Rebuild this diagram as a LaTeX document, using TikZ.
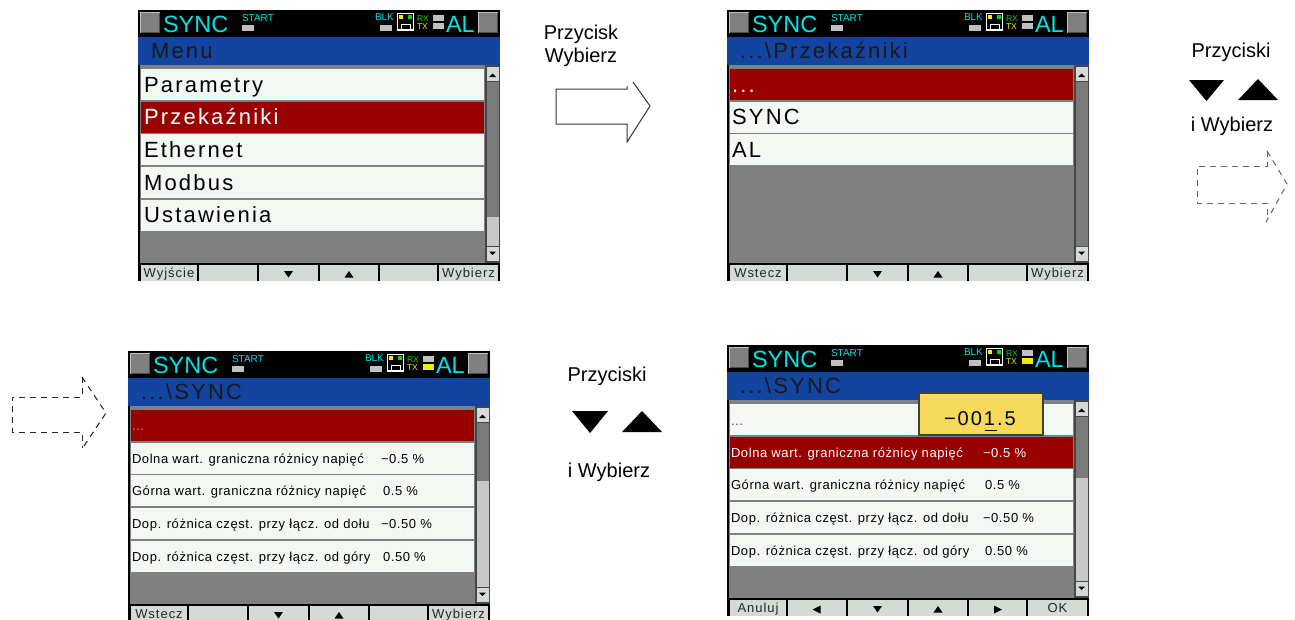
\documentclass[tikz,border=0pt]{standalone}
\usepackage{fontspec}
\setmainfont{Liberation Sans}
\newfontfamily\lcdface[LetterSpace=10]{Liberation Sans}
\newfontfamily\lcdsmall[LetterSpace=4.5]{Liberation Sans}
\newfontfamily\lcdkey[LetterSpace=7.5]{Liberation Sans}

\definecolor{lcdblue}{RGB}{18,68,160}
\definecolor{lcdred}{RGB}{153,0,0}
\definecolor{lcdrow}{RGB}{244,248,244}
\definecolor{lcdgrey}{RGB}{128,128,128}
\definecolor{lcdthumb}{RGB}{122,122,122}
\definecolor{lcddark}{RGB}{70,70,70}
\definecolor{lcdtrack}{RGB}{200,200,200}
\definecolor{lcdcyan}{RGB}{0,228,228}
\definecolor{lcdbtn}{RGB}{214,218,214}
\definecolor{lcdlight}{RGB}{192,192,192}
\definecolor{lcdyellow}{RGB}{238,238,0}
\definecolor{lcdgreen}{RGB}{0,216,0}
\definecolor{popyellow}{RGB}{248,218,90}

\newcommand\lcdbig{\lcdface\fontsize{22}{22}\selectfont}
\newcommand\lcdrowfont{\lcdsmall\fontsize{13}{13}\selectfont}
\newcommand\lcdkeyfont{\lcdkey\fontsize{13}{13}\selectfont}
\newcommand\lcdtiny{\fontsize{10}{10}\selectfont}
\newcommand\lcdmini{\fontsize{8.5}{9}\selectfont}
\newcommand\lcdstatus{\fontsize{23.5}{24}\selectfont}

\tikzset{
  lbl/.style={inner sep=0pt, outer sep=0pt, anchor=base west},
  keylbl/.style={inner sep=0pt, outer sep=0pt, anchor=base, font=\lcdkeyfont, text=black!85},
  capt/.style={inner sep=0pt, outer sep=0pt, anchor=base, font=\fontsize{20}{20}\selectfont},
  blockarrow/.style={line width=1pt, line join=miter, draw=black!80},
  dasharrow/.style={line width=1pt, dash pattern=on 6pt off 5pt},
}

% raised grey square in the status line
\newcommand{\lcdbevel}[2]{%
  \fill[lcdgrey] (#1,#2) rectangle ++(20,21);
  \draw[lcdlight, line width=1pt] ({#1+0.5},{#2+20.5}) -- ({#1+0.5},{#2+0.5}) -- ({#1+19.5},{#2+0.5});
  \draw[black!70, line width=1pt] ({#1+19.5},{#2+0.5}) -- ({#1+19.5},{#2+20.5}) -- ({#1+0.5},{#2+20.5});
}

% display frame: #1 title, #2 lower end of the scroll thumb, #3 TX lamp colour
\newcommand{\lcdframe}[3]{%
  \fill[black] (0,0) rectangle (362,271);
  \lcdbevel{2}{2}\lcdbevel{340}{2}%
  \node[lbl, text=lcdcyan, font=\lcdstatus] (sync) at (25,22) {SYNC};
  \node[lbl, text=lcdcyan, font=\lcdtiny] (start) at (104,11) {START};
  \fill[lcdlight] (104,15) rectangle (116,20.5);
  \node[lbl, text=lcdcyan, font=\lcdtiny] (blk) at (237,10) {BLK};
  \fill[lcdlight] (242,15) rectangle (254,21);
  \draw[white, line width=1.2pt] (259.5,3.5) rectangle (275.5,20);
  \draw[white, line width=1pt] (263,20) -- (263,14) -- (272,14) -- (272,20);
  \fill[lcdyellow] (261,5) rectangle (265,8.5);
  \fill[lcdgreen] (270,5) rectangle (274,8.5);
  \node[lbl, text=lcdgreen, font=\lcdmini] (rx) at (279,11) {RX};
  \node[lbl, text=lcdyellow, font=\lcdmini] (tx) at (279,19) {TX};
  \fill[lcdlight] (295,5) rectangle (306,10.5);
  \fill[#3] (295,13) rectangle (306,19);
  \node[lbl, text=lcdcyan, font=\lcdstatus] (al) at (308,22) {AL};
  \fill[lcdblue] (0,27) rectangle (362,54.5);
  \node[lbl, text=black!90, font=\lcdbig] (title) at (13,48) {#1};
  \fill[lcdgrey] (1.5,54.5) rectangle (347,253);
  \fill[lcddark] (347,54.5) rectangle (362,253);
  \fill[lcdbtn] (348.5,57) rectangle (360.5,71);
  \fill (351,67) -- (358,67) -- (354.5,63.5) -- cycle;
  \fill[lcdthumb] (348.5,72) rectangle (360.5,#2);
  \fill[lcdtrack] (348.5,#2) rectangle (360.5,236);
  \fill[lcdbtn] (348.5,237) rectangle (360.5,251);
  \fill (351,241.5) -- (358,241.5) -- (354.5,245) -- cycle;
  \fill[black] (0,253) rectangle (362,271);
  \foreach \a/\b in {3/59,61/119,121/180,182/240,242/299,301/360}
    \fill[lcdbtn] (\a,254.5) rectangle (\b,271);
}

% list row #1 (0 = first) filled with colour #2
\newcommand{\lcdrowbox}[2]{\fill[#2] (3,{59+32.7*#1}) rectangle (346,{90+32.7*#1});}

% arrow marks on the soft keys, centred at x = #1
\newcommand{\keydown}[1]{\fill ({#1-4.5},261) -- ({#1+4.5},261) -- (#1,267.5) -- cycle;}
\newcommand{\keyup}[1]{\fill ({#1-4.5},267.5) -- ({#1+4.5},267.5) -- (#1,261) -- cycle;}
\newcommand{\keyleft}[1]{\fill ({#1+3.5},260.5) -- ({#1+3.5},268.5) -- ({#1-4.5},264.5) -- cycle;}
\newcommand{\keyright}[1]{\fill ({#1-3.5},260.5) -- ({#1-3.5},268.5) -- ({#1+4.5},264.5) -- cycle;}

\begin{document}
\begin{tikzpicture}[x=1pt, y=-1pt]
\useasboundingbox (0,0) rectangle (1295,619);

% ---------- main menu ----------
\begin{scope}[shift={(138,10)}, name prefix=menu-]
  \lcdframe{Menu}{207}{lcdlight}
  \lcdrowbox{0}{lcdrow}\lcdrowbox{1}{lcdred}\lcdrowbox{2}{lcdrow}\lcdrowbox{3}{lcdrow}\lcdrowbox{4}{lcdrow}
  \node[lbl, font=\lcdbig] (r0) at (6,82) {Parametry};
  \node[lbl, font=\lcdbig, text=white] (r1) at (6,114.7) {Przekaźniki};
  \node[lbl, font=\lcdbig] (r2) at (6,147.4) {Ethernet};
  \node[lbl, font=\lcdbig] (r3) at (6,180.1) {Modbus};
  \node[lbl, font=\lcdbig] (r4) at (6,212.8) {Ustawienia};
  \node[keylbl] (k1) at (31,267) {Wyjście};
  \node[keylbl] (k6) at (330.5,267) {Wybierz};
  \keydown{150.5}\keyup{211}
\end{scope}

% ---------- relays list ----------
\begin{scope}[shift={(727,10)}, name prefix=rel-]
  \lcdframe{...\textbackslash Przekaźniki}{236}{lcdlight}
  \lcdrowbox{0}{lcdred}\lcdrowbox{1}{lcdrow}\lcdrowbox{2}{lcdrow}
  \node[lbl, font=\lcdbig, text=white] (r0) at (5,82) {...};
  \node[lbl, font=\lcdbig] (r1) at (5,114.7) {SYNC};
  \node[lbl, font=\lcdbig] (r2) at (5,147.4) {AL};
  \node[keylbl] (k1) at (31,267) {Wstecz};
  \node[keylbl] (k6) at (330.5,267) {Wybierz};
  \keydown{150.5}\keyup{211}
\end{scope}

% ---------- SYNC parameters ----------
\begin{scope}[shift={(128,351)}, name prefix=par-]
  \lcdframe{...\textbackslash SYNC}{130}{lcdyellow}
  \lcdrowbox{0}{lcdred}\lcdrowbox{1}{lcdrow}\lcdrowbox{2}{lcdrow}\lcdrowbox{3}{lcdrow}\lcdrowbox{4}{lcdrow}
  \node[lbl, font=\lcdrowfont, text=lcdred!45!white] (r0) at (4,79.5) {...};
  \node[lbl, font=\lcdrowfont] (r1) at (4,112.2) {Dolna wart. graniczna różnicy napięć};
  \node[lbl, font=\lcdrowfont] (v1) at (253,112.2) {−0.5 \%};
  \node[lbl, font=\lcdrowfont] (r2) at (4,144.9) {Górna wart. graniczna różnicy napięć};
  \node[lbl, font=\lcdrowfont] (v2) at (255,144.9) {0.5 \%};
  \node[lbl, font=\lcdrowfont] (r3) at (4,177.6) {Dop. różnica częst. przy łącz. od dołu};
  \node[lbl, font=\lcdrowfont] (v3) at (253,177.6) {−0.50 \%};
  \node[lbl, font=\lcdrowfont] (r4) at (4,210.3) {Dop. różnica częst. przy łącz. od góry};
  \node[lbl, font=\lcdrowfont] (v4) at (255,210.3) {0.50 \%};
  \node[keylbl] (k1) at (31,267) {Wstecz};
  \node[keylbl] (k6) at (330.5,267) {Wybierz};
  \keydown{150.5}\keyup{211}
\end{scope}

% ---------- value editing ----------
\begin{scope}[shift={(727,345)}, name prefix=edit-]
  \lcdframe{...\textbackslash SYNC}{133}{lcdyellow}
  \lcdrowbox{0}{lcdrow}\lcdrowbox{1}{lcdred}\lcdrowbox{2}{lcdrow}\lcdrowbox{3}{lcdrow}\lcdrowbox{4}{lcdrow}
  \node[lbl, font=\lcdrowfont, text=black!70] (r0) at (4,80) {...};
  \node[lbl, font=\lcdrowfont, text=white] (r1) at (4,112.2) {Dolna wart. graniczna różnicy napięć};
  \node[lbl, font=\lcdrowfont, text=white] (v1) at (256,112.2) {−0.5 \%};
  \node[lbl, font=\lcdrowfont] (r2) at (4,144.9) {Górna wart. graniczna różnicy napięć};
  \node[lbl, font=\lcdrowfont] (v2) at (258,144.9) {0.5 \%};
  \node[lbl, font=\lcdrowfont] (r3) at (4,177.6) {Dop. różnica częst. przy łącz. od dołu};
  \node[lbl, font=\lcdrowfont] (v3) at (256,177.6) {−0.50 \%};
  \node[lbl, font=\lcdrowfont] (r4) at (4,210.3) {Dop. różnica częst. przy łącz. od góry};
  \node[lbl, font=\lcdrowfont] (v4) at (258,210.3) {0.50 \%};
  \node[keylbl] (k1) at (31,267) {Anuluj};
  \node[keylbl] (k6) at (330.5,267) {OK};
  \keyleft{90}\keydown{150.5}\keyup{211}\keyright{270.5}
  % edit field
  \fill[popyellow] (192,48) rectangle (316,90);
  \draw[black!75, line width=2pt] (192,48) rectangle (316,90);
  \node[lbl, font=\lcdface\fontsize{20}{20}\selectfont] (val) at (217,80) {−001.5};
  \draw[black, line width=1.5pt] (258,85.5) -- (270,85.5);
\end{scope}

% ---------- step 1: select ----------
\node[capt] (cap1a) at (581,39) {Przycisk};
\node[capt] (cap1b) at (581,62) {Wybierz};
\draw[blockarrow] (633,82) -- (650,106) -- (627,142) -- (627,124) -- (556,124)
  -- (556,89) -- (627,89) -- (627,86);

% ---------- step 2: arrows and select ----------
\node[capt] (cap2a) at (1231,57) {Przyciski};
\fill (1189,80) -- (1224,80) -- (1206.5,101) -- cycle;
\fill (1238,100) -- (1278,100) -- (1258,79) -- cycle;
\node[capt] (cap2b) at (1232,131) {i Wybierz};
\draw[dasharrow, draw=black!60] (1267,151) -- (1267,166) -- (1197,166) -- (1197,203)
  -- (1267,203) -- (1267,218);
\draw[dasharrow, draw=black!60] (1267,151) -- (1287,184) -- (1266,222);

\draw[dasharrow, draw=black!85] (82,377) -- (82,397) -- (12,397) -- (12,432)
  -- (82,432) -- (82,448);
\draw[dasharrow, draw=black!85] (82,377) -- (106,413) -- (82,449);

% ---------- step 3: arrows and select ----------
\node[capt] (cap3a) at (607,381) {Przyciski};
\fill (572,411) -- (608,411) -- (590,433) -- cycle;
\fill (622,432) -- (662,432) -- (642,411) -- cycle;
\node[capt] (cap3b) at (609,477) {i Wybierz};
\end{tikzpicture}
\end{document}
